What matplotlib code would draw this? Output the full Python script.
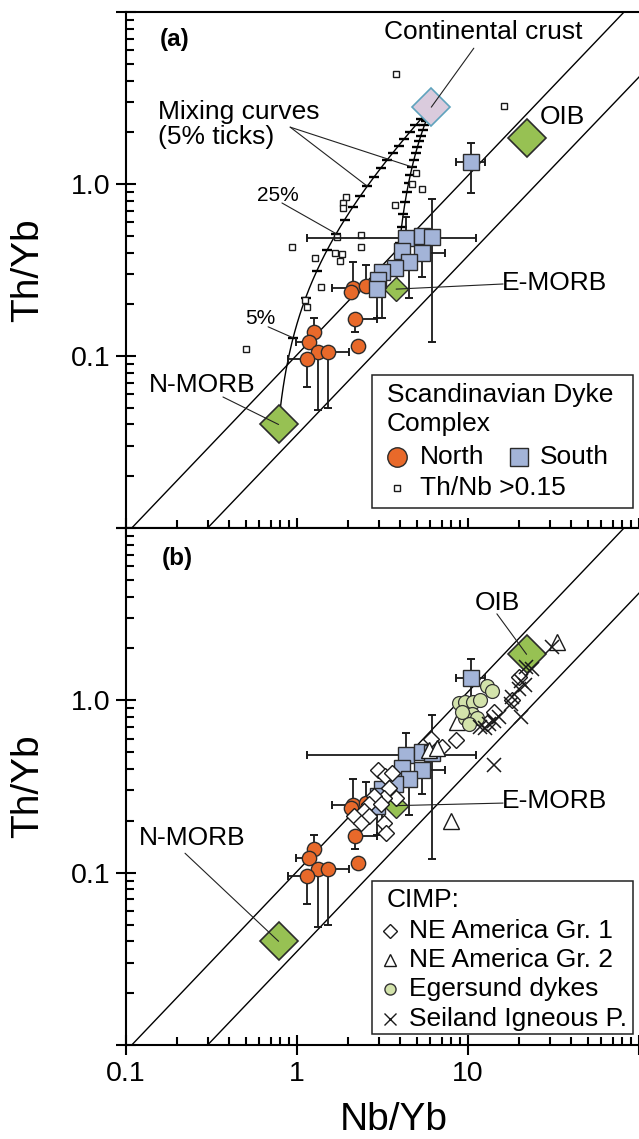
import numpy as np
import matplotlib
matplotlib.use('Agg')
import matplotlib.pyplot as plt
from matplotlib.patches import Rectangle
from matplotlib.ticker import LogLocator, FuncFormatter

plt.rcParams['font.family'] = ['Liberation Sans', 'DejaVu Sans']

# reference compositions (Nb/Yb, Th/Yb), Yb (ppm) for the mixing model
nmorb = (0.78, 0.040)
emorb = (3.8, 0.245)
oib = (22.0, 1.85)
crust = (6.1, 2.8)
nmorb_yb = 3.05
emorb_yb = 2.37
crust_yb = 1.9

# MORB-OIB array bounds (Nb/Yb ends, Th/Yb ends)
upper_nb = [0.108, 81.7]
upper_th = [0.01, 10.0]
lower_nb = [0.30, 100.0]
lower_th = [0.01, 4.19]

# Scandinavian Dyke Complex - north
north_nb = [2.13, 2.08, 2.54, 2.19, 1.26, 1.17, 1.32, 1.51, 1.15, 2.28]
north_th = [0.248, 0.236, 0.255, 0.164, 0.138, 0.121, 0.105, 0.105, 0.096, 0.114]
north_nb_lo = [1.60, 2.08, 2.54, 2.19, 1.26, 0.99, 1.32, 1.51, 0.88, 2.28]
north_nb_hi = [2.13, 2.08, 2.54, 2.95, 1.26, 1.17, 1.32, 2.02, 1.15, 2.28]
north_th_lo = [0.248, 0.236, 0.255, 0.138, 0.138, 0.121, 0.0485, 0.050, 0.066, 0.114]
north_th_hi = [0.352, 0.236, 0.338, 0.164, 0.166, 0.121, 0.105, 0.105, 0.096, 0.114]

# Scandinavian Dyke Complex - south
south_nb = [10.4, 4.35, 5.39, 6.17, 4.12, 5.39, 4.53, 3.75, 3.15, 2.99, 2.95]
south_th = [1.34, 0.485, 0.499, 0.492, 0.407, 0.397, 0.352, 0.325, 0.308, 0.277, 0.245]
south_nb_lo = [8.51, 1.14, 5.39, 6.17, 4.12, 5.39, 4.53, 3.15, 3.15, 2.99, 2.95]
south_nb_hi = [12.6, 11.1, 5.39, 6.17, 4.12, 7.35, 4.53, 3.75, 3.15, 2.99, 2.95]
south_th_lo = [0.887, 0.485, 0.499, 0.120, 0.407, 0.288, 0.217, 0.325, 0.166, 0.277, 0.166]
south_th_hi = [1.73, 0.643, 0.499, 0.819, 0.407, 0.397, 0.352, 0.325, 0.308, 0.277, 0.245]

# samples with Th/Nb > 0.15
high_nb = [3.80, 16.2, 4.98, 4.71, 5.39, 3.75, 1.94, 1.87, 1.87, 1.72, 2.38,
           2.38, 0.94, 1.28, 1.67, 1.84, 1.79, 1.39, 1.11, 1.14, 0.50]
high_th = [4.36, 2.84, 1.16, 1.00, 0.935, 0.755, 0.840, 0.776, 0.725, 0.492, 0.505,
           0.430, 0.430, 0.372, 0.397, 0.392, 0.357, 0.252, 0.212, 0.193, 0.110]

# CIMP
gr1_nb = [6.08, 7.05, 8.51, 2.99, 3.28, 3.61, 3.46, 3.80, 3.24, 2.83, 2.65,
          3.11, 2.48, 2.16, 2.65, 3.24, 3.33, 2.38, 14.2, 12.9, 18.1, 19.8]
gr1_th = [0.593, 0.533, 0.585, 0.392, 0.366, 0.381, 0.312, 0.273, 0.273, 0.280, 0.252,
          0.252, 0.229, 0.214, 0.214, 0.195, 0.171, 0.195, 0.851, 0.735, 1.00, 1.36]
gr2_nb = [33.0, 5.93, 6.59, 7.96, 8.63]
gr2_th = [2.17, 0.512, 0.526, 0.200, 0.745]
eger_nb = [12.9, 13.8, 8.87, 9.61, 10.7, 11.7, 10.5, 9.61, 11.3, 10.1, 9.22]
eger_th = [1.21, 1.14, 0.961, 0.973, 0.973, 1.00, 0.830, 0.786, 0.786, 0.734, 0.851]
seil_nb = [30.9, 23.6, 21.8, 20.4, 21.5, 19.8, 18.1, 17.8, 20.4, 15.2, 14.2, 13.3, 12.6, 11.7, 14.2]
seil_th = [2.03, 1.53, 1.56, 1.29, 1.22, 1.17, 1.04, 0.948, 0.796, 0.796, 0.755, 0.725, 0.687, 0.696, 0.419]

ORANGE = '#e8692a'
BLUE = '#a3b4d8'
GREEN = '#97c153'
LILAC = '#dacbdd'
PALE = '#d3e3ab'
EDGE = '#2b2b2b'


def mix(a, a_yb, b, b_yb, f):
    yb = f * b_yb + (1 - f) * a_yb
    nb = (f * b[0] * b_yb + (1 - f) * a[0] * a_yb) / yb
    th = (f * b[1] * b_yb + (1 - f) * a[1] * a_yb) / yb
    return nb, th


def fmt_y(v, p):
    return {-1: '0.1', 0: '1.0'}.get(int(round(np.log10(v))), '')


def fmt_x(v, p):
    return {-1: '0.1', 0: '1', 1: '10'}.get(int(round(np.log10(v))), '')


def setup(ax, xlabels):
    ax.set_xscale('log')
    ax.set_yscale('log')
    ax.set_xlim(0.1, 100)
    ax.set_ylim(0.01, 10)
    ax.spines['right'].set_visible(False)
    for s in ax.spines.values():
        s.set_linewidth(1.5)
    for axis in (ax.xaxis, ax.yaxis):
        axis.set_major_locator(LogLocator(base=10, numticks=10))
        axis.set_minor_locator(LogLocator(base=10, subs=np.arange(2, 10), numticks=10))
    ax.tick_params(which='major', direction='inout', length=15, width=1.5,
                   labelsize=20.5, pad=4)
    ax.tick_params(which='minor', direction='in', length=5.5, width=1.5)
    ax.yaxis.set_major_formatter(FuncFormatter(fmt_y))
    if xlabels:
        ax.xaxis.set_major_formatter(FuncFormatter(fmt_x))
    else:
        ax.tick_params(axis='x', labelbottom=False)
    ax.set_ylabel('Th/Yb', fontsize=28)
    ax.yaxis.set_label_coords(-0.19, 0.5)
    ax.yaxis.label.set_va('center')
    ax.plot(upper_nb, upper_th, color='k', lw=1.0, zorder=1)
    ax.plot(lower_nb, lower_th, color='k', lw=1.0, zorder=1)


def errbars(ax, x, y, xlo, xhi, ylo, yhi):
    x = np.array(x); y = np.array(y)
    ax.errorbar(x, y, xerr=[x - np.array(xlo), np.array(xhi) - x],
                yerr=[y - np.array(ylo), np.array(yhi) - y], fmt='none',
                ecolor='#1a1a1a', elinewidth=1.3, capsize=3.2, capthick=1.4, zorder=4)


def scandinavian(ax, emorb_ms):
    errbars(ax, north_nb, north_th, north_nb_lo, north_nb_hi, north_th_lo, north_th_hi)
    errbars(ax, south_nb, south_th, south_nb_lo, south_nb_hi, south_th_lo, south_th_hi)
    ax.plot(*nmorb, 'D', ms=19, mfc=GREEN, mec=EDGE, mew=1.2, zorder=5)
    ax.plot(*oib, 'D', ms=19, mfc=GREEN, mec=EDGE, mew=1.2, zorder=5)
    ax.plot(*emorb, 'D', ms=emorb_ms, mfc=GREEN, mec=EDGE, mew=1.0, zorder=5)
    ax.plot(north_nb, north_th, 'o', ms=10.3, mfc=ORANGE, mec=EDGE, mew=1.0, ls='none', zorder=6)
    ax.plot(south_nb, south_th, 's', ms=11.8, mfc=BLUE, mec=EDGE, mew=1.0, ls='none', zorder=7)


def leader(ax, xy, start):
    ax.annotate('', xy=xy, xycoords='data', xytext=start, textcoords='axes fraction',
                arrowprops=dict(arrowstyle='-', lw=0.8, color='#222222',
                                shrinkA=0, shrinkB=0), zorder=8)


fig = plt.figure(figsize=(6.39, 11.39), dpi=100)
ax1 = fig.add_axes([0.1972, 0.5364, 0.8028, 0.4530])
ax2 = fig.add_axes([0.1972, 0.0825, 0.8028, 0.4539])

# ---------- panel (a) ----------
setup(ax1, False)
f_line = np.linspace(0, 1, 201)
f_tick = np.arange(1, 20) * 0.05
for a, a_yb in ((nmorb, nmorb_yb), (emorb, emorb_yb)):
    cx, cy = mix(a, a_yb, crust, crust_yb, f_line)
    ax1.plot(cx, cy, color='k', lw=1.0, zorder=2)
    tx, ty = mix(a, a_yb, crust, crust_yb, f_tick)
    ax1.plot(tx, ty, '_', ms=7, mew=1.7, color='k', ls='none', zorder=2)
ax1.plot(high_nb, high_th, 's', ms=4.5, mfc='white', mec='#1a1a1a', mew=1.0, ls='none', zorder=3)
ax1.plot(*crust, 'D', ms=19, mfc=LILAC, mec='#5fa3bd', mew=1.2, zorder=5)
scandinavian(ax1, 12)

ax1.text(0.066, 0.946, '(a)', transform=ax1.transAxes, fontsize=17.5, fontweight='bold',
         ha='left', va='center')
ax1.text(0.696, 0.961, 'Continental crust', transform=ax1.transAxes, fontsize=19,
         ha='center', va='center')
leader(ax1, crust, (0.678, 0.930))
ax1.text(0.807, 0.797, 'OIB', transform=ax1.transAxes, fontsize=19, ha='left', va='center')
ax1.text(0.062, 0.783, 'Mixing curves\n(5% ticks)', transform=ax1.transAxes, fontsize=19,
         ha='left', va='center', linespacing=1.05)
leader(ax1, mix(nmorb, nmorb_yb, crust, crust_yb, 0.45), (0.320, 0.777))
leader(ax1, mix(emorb, emorb_yb, crust, crust_yb, 0.45), (0.320, 0.777))
ax1.text(0.296, 0.645, '25%', transform=ax1.transAxes, fontsize=15, ha='center', va='center')
leader(ax1, mix(nmorb, nmorb_yb, crust, crust_yb, 0.25), (0.304, 0.630))
ax1.text(0.261, 0.407, '5%', transform=ax1.transAxes, fontsize=15, ha='center', va='center')
leader(ax1, mix(nmorb, nmorb_yb, crust, crust_yb, 0.05), (0.277, 0.390))
ax1.text(0.148, 0.277, 'N-MORB', transform=ax1.transAxes, fontsize=19, ha='center', va='center')
leader(ax1, nmorb, (0.189, 0.254))
ax1.text(0.836, 0.475, 'E-MORB', transform=ax1.transAxes, fontsize=19, ha='center', va='center')
leader(ax1, emorb, (0.735, 0.473))

# legend (a)
ax1.add_patch(Rectangle((0.4795, 0.0388), 0.5088, 0.2577, transform=ax1.transAxes,
                        fc='white', ec='#222222', lw=1.1, zorder=9))
ax1.text(0.508, 0.258, 'Scandinavian Dyke', transform=ax1.transAxes, fontsize=19,
         ha='left', va='center', zorder=10)
ax1.text(0.508, 0.2016, 'Complex', transform=ax1.transAxes, fontsize=19,
         ha='left', va='center', zorder=10)
ax1.plot([0.528], [0.1376], 'o', ms=14, mfc=ORANGE, mec=EDGE, mew=1.0,
         transform=ax1.transAxes, zorder=10, clip_on=False)
ax1.text(0.573, 0.1376, 'North', transform=ax1.transAxes, fontsize=19,
         ha='left', va='center', zorder=10)
ax1.plot([0.766], [0.1376], 's', ms=13.5, mfc=BLUE, mec=EDGE, mew=1.0,
         transform=ax1.transAxes, zorder=10, clip_on=False)
ax1.text(0.807, 0.1376, 'South', transform=ax1.transAxes, fontsize=19,
         ha='left', va='center', zorder=10)
ax1.plot([0.528], [0.0775], 's', ms=5, mfc='white', mec='#1a1a1a', mew=1.0,
         transform=ax1.transAxes, zorder=10, clip_on=False)
ax1.text(0.573, 0.0775, 'Th/Nb >0.15', transform=ax1.transAxes, fontsize=19,
         ha='left', va='center', zorder=10)

# ---------- panel (b) ----------
setup(ax2, True)
scandinavian(ax2, 12)
ax2.plot(gr1_nb, gr1_th, 'D', ms=7.8, mfc='white', mec='#1a1a1a', mew=1.0, ls='none', zorder=8)
ax2.plot(gr2_nb, gr2_th, '^', ms=11, mfc='white', mec='#1a1a1a', mew=1.0, ls='none', zorder=8)
ax2.plot(eger_nb, eger_th, 'o', ms=10, mfc=PALE, mec='#333333', mew=0.9, ls='none', zorder=8)
ax2.plot(seil_nb, seil_th, 'x', ms=10, mec='#1a1a1a', mew=1.1, ls='none', zorder=8)

ax2.text(0.070, 0.941, '(b)', transform=ax2.transAxes, fontsize=17.5, fontweight='bold',
         ha='left', va='center')
ax2.text(0.723, 0.855, 'OIB', transform=ax2.transAxes, fontsize=19, ha='center', va='center')
leader(ax2, oib, (0.723, 0.834))
ax2.text(0.836, 0.472, 'E-MORB', transform=ax2.transAxes, fontsize=19, ha='center', va='center')
leader(ax2, emorb, (0.735, 0.468))
ax2.text(0.129, 0.400, 'N-MORB', transform=ax2.transAxes, fontsize=19, ha='center', va='center')
leader(ax2, nmorb, (0.115, 0.371))

ax2.set_xlabel('Nb/Yb', fontsize=28)
ax2.xaxis.set_label_coords(0.522, -0.145)
ax2.xaxis.label.set_va('center')

# legend (b)
ax2.add_patch(Rectangle((0.4795, 0.0213), 0.5088, 0.2960, transform=ax2.transAxes,
                        fc='white', ec='#222222', lw=1.1, zorder=9))
ax2.text(0.508, 0.2805, 'CIMP:', transform=ax2.transAxes, fontsize=19,
         ha='left', va='center', zorder=10)
rows = [0.2205, 0.1644, 0.1083, 0.0503]
names = ['NE America Gr. 1', 'NE America Gr. 2', 'Egersund dykes', 'Seiland Igneous P.']
styles = [dict(marker='D', ms=7, mfc='white', mec='#1a1a1a'),
          dict(marker='^', ms=9, mfc='white', mec='#1a1a1a'),
          dict(marker='o', ms=8, mfc=PALE, mec='#333333'),
          dict(marker='x', ms=9, mec='#1a1a1a')]
for yy, name, st in zip(rows, names, styles):
    ax2.plot([0.514], [yy], ls='none', mew=1.0, transform=ax2.transAxes, zorder=10,
             clip_on=False, **st)
    ax2.text(0.551, yy, name, transform=ax2.transAxes, fontsize=19,
             ha='left', va='center', zorder=10)

fig.savefig('out.png', dpi=100)
